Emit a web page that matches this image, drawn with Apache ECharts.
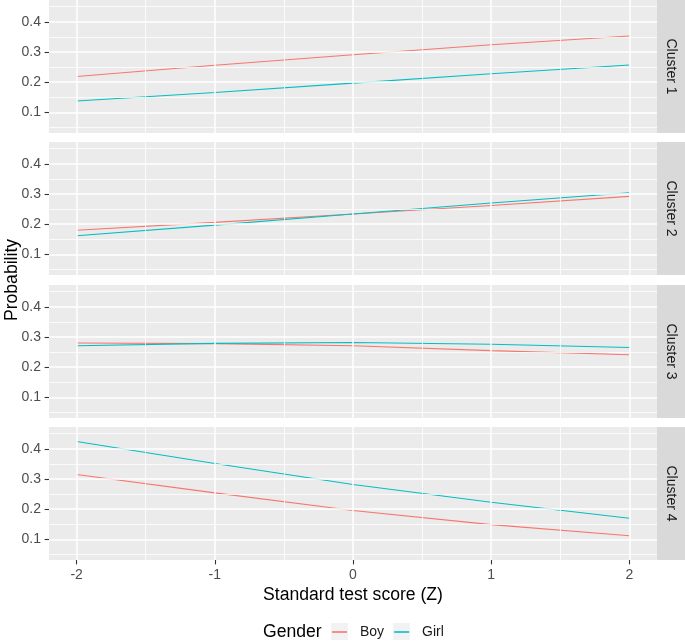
<!DOCTYPE html>
<html>
<head>
<meta charset="utf-8">
<script src="https://cdn.jsdelivr.net/npm/echarts@6/dist/echarts.min.js"></script>
<style>html,body{margin:0;padding:0;background:#fff;}#chart{width:685px;height:642px;}</style>
</head>
<body>
<div id="chart"></div>
<script>
// ---- data ----
const clusters = ['Cluster 1', 'Cluster 2', 'Cluster 3', 'Cluster 4'];
const xValues = [-2, -1, 0, 1, 2];
const boyC1  = [0.219, 0.256, 0.291, 0.324, 0.353];
const girlC1 = [0.138, 0.166, 0.197, 0.228, 0.257];
const boyC2  = [0.180, 0.206, 0.234, 0.262, 0.292];
const girlC2 = [0.162, 0.197, 0.234, 0.270, 0.304];
const boyC3  = [0.280, 0.278, 0.271, 0.255, 0.241];
const girlC3 = [0.271, 0.279, 0.282, 0.276, 0.265];
const boyC4  = [0.315, 0.254, 0.196, 0.149, 0.112];
const girlC4 = [0.424, 0.351, 0.282, 0.223, 0.170];
const yTicks = [0.1, 0.2, 0.3, 0.4];
const yMinor = [0.05, 0.15, 0.25, 0.35, 0.45];
const xTicks = [-2, -1, 0, 1, 2];
const xMinor = [-1.5, -0.5, 0.5, 1.5];
const genders = ['Boy', 'Girl'];

// ---- layout / style ----
const boySeries = [boyC1, boyC2, boyC3, boyC4];
const girlSeries = [girlC1, girlC2, girlC3, girlC4];
const FONT = '"Liberation Sans", Arial, sans-serif';
const colors = { Boy: '#F8766D', Girl: '#00BFC4' };
const panelTops = [0, 142, 285, 427];
const panelH = 133, panelL = 49, panelW = 608;
const stripW = 28;

const grids = [], xAxes = [], yAxes = [], series = [], graphics = [];

clusters.forEach((c, i) => {
  grids.push({ left: panelL, top: panelTops[i], width: panelW, height: panelH,
    show: true, backgroundColor: '#EBEBEB', borderWidth: 0 });
  const last = i === clusters.length - 1;
  xAxes.push({
    type: 'value', gridIndex: i, min: -2.2, max: 2.2, position: 'bottom',
    axisLine: { show: false, onZero: false }, splitLine: { show: false },
    axisTick: { show: last, customValues: xTicks, length: 4.4, lineStyle: { color: '#333333', width: 1.1 } },
    axisLabel: { show: last, customValues: xTicks, margin: 8, color: '#4D4D4D', fontSize: 14, fontFamily: FONT },
    name: last ? 'Standard test score (Z)' : '', nameLocation: 'middle', nameGap: 26,
    nameTextStyle: { color: '#000', fontSize: 17.6, fontFamily: FONT }
  });
  yAxes.push({
    type: 'value', gridIndex: i, min: 0.032, max: 0.472, position: 'left',
    axisLine: { show: false, onZero: false }, splitLine: { show: false },
    axisTick: { show: true, customValues: yTicks, length: 4.4, lineStyle: { color: '#333333', width: 1.1 } },
    axisLabel: { show: true, customValues: yTicks, margin: 8, color: '#4D4D4D', fontSize: 14, fontFamily: FONT,
      formatter: v => v.toFixed(1) }
  });
  const ml = [];
  yMinor.forEach(v => ml.push({ yAxis: v, lineStyle: { color: '#fff', width: 0.8, type: 'solid' } }));
  xMinor.forEach(v => ml.push({ xAxis: v, lineStyle: { color: '#fff', width: 0.8, type: 'solid' } }));
  yTicks.forEach(v => ml.push({ yAxis: v, lineStyle: { color: '#fff', width: 1.5, type: 'solid' } }));
  xTicks.forEach(v => ml.push({ xAxis: v, lineStyle: { color: '#fff', width: 1.5, type: 'solid' } }));
  series.push({
    type: 'line', name: 'grid' + i, xAxisIndex: i, yAxisIndex: i, data: [], z: 1, silent: true,
    markLine: { silent: true, symbol: ['none', 'none'], label: { show: false }, animation: false,
      emphasis: { disabled: true }, lineStyle: { type: 'solid', color: '#fff' }, data: ml }
  });
  [['Boy', boySeries[i]], ['Girl', girlSeries[i]]].forEach(([g, vals]) => {
    series.push({
      type: 'line', name: g, xAxisIndex: i, yAxisIndex: i, z: 3, silent: true,
      data: xValues.map((x, j) => [x, vals[j]]),
      symbol: 'none', showSymbol: false,
      lineStyle: { color: colors[g], width: 1.1 }, itemStyle: { color: colors[g] }
    });
  });
  // strip
  graphics.push({ type: 'rect', shape: { x: panelL + panelW, y: panelTops[i], width: stripW, height: panelH },
    style: { fill: '#D9D9D9' }, silent: true });
  graphics.push({ type: 'text', x: panelL + panelW + stripW / 2, y: panelTops[i] + panelH / 2, rotation: -Math.PI / 2,
    style: { text: c, fill: '#1A1A1A', font: '14px ' + FONT, textAlign: 'center', textVerticalAlign: 'middle' }, silent: true });
});

// y-axis title
graphics.push({ type: 'text', x: 12, y: (panelTops[0] + panelTops[3] + panelH) / 2, rotation: Math.PI / 2,
  style: { text: 'Probability', fill: '#000', font: '17.6px ' + FONT, textAlign: 'center', textVerticalAlign: 'middle' } });
// legend title + key backgrounds
graphics.push({ type: 'text', x: 263, y: 632,
  style: { text: 'Gender', fill: '#000', font: '17.6px ' + FONT, textAlign: 'left', textVerticalAlign: 'middle' } });
graphics.push({ type: 'rect', shape: { x: 331, y: 623, width: 17, height: 17 }, style: { fill: '#F2F2F2' }, z: -1 });
graphics.push({ type: 'rect', shape: { x: 393, y: 623, width: 17, height: 17 }, style: { fill: '#F2F2F2' }, z: -1 });

const chart = echarts.init(document.getElementById('chart'), null, { renderer: 'canvas' });
chart.setOption({
  animation: false,
  backgroundColor: '#fff',
  grid: grids, xAxis: xAxes, yAxis: yAxes, series: series,
  legend: { data: genders, left: 332, top: 625, padding: 0, itemWidth: 15, itemHeight: 1.6, icon: 'rect', itemGap: 10,
    selectedMode: false,
    textStyle: { fontSize: 14, color: '#1A1A1A', fontFamily: FONT, padding: [0, 0, 0, 8] } },
  graphic: graphics
});
</script>
</body>
</html>
